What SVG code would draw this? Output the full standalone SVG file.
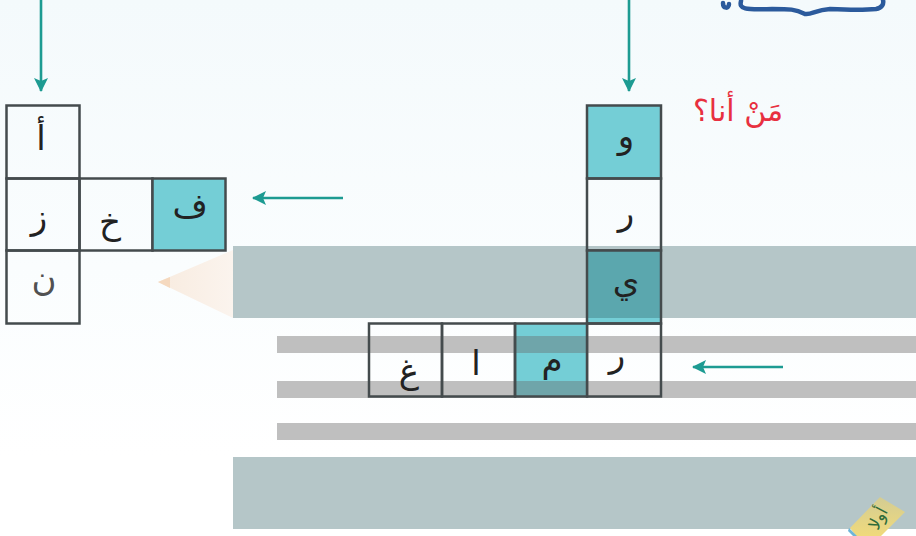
<svg xmlns="http://www.w3.org/2000/svg" width="916" height="536" viewBox="0 0 916 536">
<defs>
<linearGradient id="bg" x1="0" y1="0" x2="0" y2="1"><stop offset="0" stop-color="#f4fafc"/><stop offset="0.5" stop-color="#fafdfe"/><stop offset="0.85" stop-color="#ffffff"/></linearGradient>
<linearGradient id="fade" x1="0" y1="0" x2="1" y2="0"><stop offset="0" stop-color="#f8ebdf"/><stop offset="1" stop-color="#fbf4ee"/></linearGradient>
<linearGradient id="tabfill" x1="0" y1="0" x2="0" y2="1"><stop offset="0" stop-color="#d3cc93"/><stop offset="1" stop-color="#f0da7c"/></linearGradient>
<marker id="ah" markerUnits="userSpaceOnUse" markerWidth="15" markerHeight="15" refX="13" refY="7" orient="auto"><path d="M0 0L14 7L0 14L3 7Z" fill="#1d9b92"/></marker>
</defs>
<style>
.band{fill:#b5c6c8}.stripe{fill:#bfbfbf}
.cell{fill:none;stroke:#444b4d;stroke-width:2.5}
.t{fill:#74ced6}
.l{font-family:"DejaVu Sans","Noto Sans",sans-serif;font-size:34px;fill:#222;text-anchor:middle;direction:rtl}
.a{stroke:#1d9b92;stroke-width:2.6;fill:none;marker-end:url(#ah)}
</style>
<rect width="916" height="536" fill="url(#bg)"/>
<g id="backdrop">
<path d="M158 282L233 250V318Z" fill="url(#fade)"/>
<path d="M158 282L170 277V288Z" fill="#f5d9bf"/>
<rect class="band" x="233" y="246" width="683" height="72"/>
<rect class="stripe" x="277" y="336" width="639" height="17"/>
<rect class="stripe" x="277" y="381" width="639" height="17"/>
<rect class="stripe" x="277" y="423" width="639" height="17"/>
<rect class="band" x="233" y="457" width="683" height="72"/>
<g id="tab"><path d="M850 528L880 497L905 512L881 536H856Z" fill="url(#tabfill)"/><path d="M849 528L857 536H853L848 531Z" fill="#6fb5d8"/><text x="0" y="0" transform="translate(883 521) rotate(-62)" font-family="DejaVu Sans,sans-serif" font-size="17" fill="#2f6b3a" text-anchor="middle">أولا</text></g>
</g>
<path id="title-remnant" d="M723 3C723 9 729 9 729 4M741 1C739 9 744 10 772 9C790 9 795 9 805 14C812 15 815 10 830 9C850 10 866 10 876 9C882 8 884 4 883 0" fill="none" stroke="#2b5a9c" stroke-width="4.500" stroke-linecap="round"/>
<text id="who" x="738" y="121" font-family="DejaVu Sans,sans-serif" font-size="30" fill="#e8303f" text-anchor="middle" direction="rtl">مَنْ أنا؟</text>
<g id="connectors">
<line class="a" x1="41" y1="0" x2="41" y2="91"/>
<line class="a" x1="629" y1="0" x2="629" y2="91"/>
<line class="a" x1="343" y1="198" x2="253" y2="198"/>
<line class="a" x1="783" y1="367" x2="693" y2="367"/>
</g>
<g id="cell-a"><rect class="cell" x="6.5" y="105.500" width="73" height="73"/><text class="l" x="41" y="150">أ</text></g>
<g id="cell-z"><rect class="cell" x="6.5" y="178.500" width="73" height="72"/><text class="l" x="39" y="229" font-size="32">ز</text></g>
<g id="cell-n"><rect class="cell" x="6.5" y="250.500" width="73" height="73"/><text class="l" x="44" y="291" font-size="28" fill-opacity="0.8">ن</text></g>
<g id="cell-kh"><rect class="cell" x="79.500" y="178.500" width="73" height="72"/><text class="l" x="110" y="234">خ</text></g>
<g id="cell-f"><rect class="t" x="152.500" y="178.500" width="73" height="72"/><rect class="cell" x="152.500" y="178.500" width="73" height="72"/><text class="l" x="190" y="217" font-size="31">ف</text></g>
<g id="cell-w"><rect class="t" x="587" y="105.500" width="74" height="73"/><rect class="cell" x="587" y="105.500" width="74" height="73"/><text class="l" x="626" y="148" font-size="29">و</text></g>
<g id="cell-r1"><rect class="cell" x="587" y="178.500" width="74" height="72"/><text class="l" x="626" y="225" font-size="31">ر</text></g>
<g id="cell-y"><rect class="t" x="587" y="250.500" width="74" height="73"/><rect fill="#5ba7ae" x="587" y="250.500" width="74" height="67.500"/><rect class="cell" x="587" y="250.500" width="74" height="73"/><text class="l" x="626" y="293" font-size="32">ي</text></g>
<g id="cell-r2"><rect class="cell" x="587" y="323.500" width="74" height="73"/><text class="l" x="617" y="367" font-size="31">ر</text></g>
<g id="cell-m"><rect class="t" x="515" y="323.500" width="72" height="73"/><rect fill="#6fa5aa" x="515" y="336" width="72" height="17"/><rect fill="#6fa5aa" x="515" y="381" width="72" height="15.500"/><rect class="cell" x="515" y="323.500" width="72" height="73"/><text class="l" x="552" y="372" font-size="30">م</text></g>
<g id="cell-alef"><rect class="cell" x="442" y="323.500" width="73" height="73"/><text class="l" x="476" y="375" font-size="26">ا</text></g>
<g id="cell-gh"><rect class="cell" x="369" y="323.500" width="73" height="73"/><text class="l" x="409" y="383" font-size="38">غ</text></g>
</svg>
